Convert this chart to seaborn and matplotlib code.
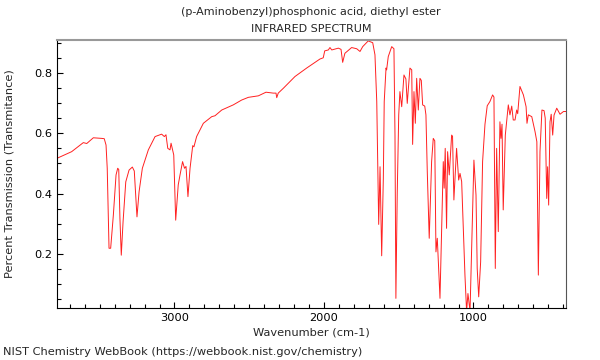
import numpy as np
import pandas as pd
import matplotlib
matplotlib.use("Agg")
import matplotlib.pyplot as plt
from matplotlib.ticker import MultipleLocator
import seaborn as sns

title_lines = ["(p-Aminobenzyl)phosphonic acid, diethyl ester", "INFRARED SPECTRUM"]
x_label = "Wavenumber (cm-1)"
y_label = "Percent Transmission (Transmitance)"
footer = "NIST Chemistry WebBook (https://webbook.nist.gov/chemistry)"

wavenumber = [
    3786, 3688, 3610, 3587, 3543, 3487, 3470, 3458, 3450, 3438, 3427, 3409, 3391, 3380, 3373,
    3365, 3356, 3344, 3326, 3304, 3282, 3269, 3251, 3237, 3215, 3175, 3130, 3086, 3068, 3057,
    3045, 3030, 3023, 3015, 3005, 2992, 2975, 2963, 2946, 2933, 2923, 2910, 2896, 2878, 2870,
    2852, 2807, 2751, 2729, 2684, 2607, 2551, 2506, 2439, 2388, 2339, 2321, 2316, 2306, 2272,
    2194, 2116, 2027, 2005, 1995, 1971, 1960, 1948, 1904, 1886, 1875, 1860, 1815, 1781, 1759,
    1741, 1704, 1674, 1659, 1647, 1634, 1625, 1614, 1603, 1597, 1585, 1581, 1570, 1547, 1532,
    1525, 1519, 1510, 1500, 1492, 1480, 1465, 1452, 1443, 1425, 1413, 1407, 1398, 1389, 1380,
    1369, 1358, 1349, 1340, 1326, 1318, 1309, 1296, 1280, 1269, 1259, 1251, 1242, 1224, 1212,
    1202, 1196, 1189, 1180, 1173, 1162, 1146, 1140, 1131, 1113, 1099, 1090, 1079, 1057, 1046,
    1037, 1023, 1010, 997, 983, 975, 965, 952, 939, 923, 908, 890, 872, 863, 854,
    845, 834, 823, 816, 809, 801, 787, 767, 756, 744, 734, 722, 711, 704, 689,
    666, 648, 642, 633, 610, 588, 576, 566, 555, 542, 528, 520, 510, 504, 497,
    488, 480, 470, 461, 443, 421, 398, 381,
]
transmittance = [
    0.517, 0.539, 0.569, 0.566, 0.585, 0.583, 0.582, 0.561, 0.484, 0.219, 0.219, 0.329, 0.462, 0.484, 0.480,
    0.318, 0.196, 0.307, 0.439, 0.478, 0.488, 0.475, 0.323, 0.406, 0.484, 0.545, 0.589, 0.597, 0.589, 0.595,
    0.550, 0.545, 0.567, 0.550, 0.528, 0.312, 0.429, 0.462, 0.506, 0.484, 0.490, 0.390, 0.484, 0.559, 0.555,
    0.589, 0.633, 0.655, 0.658, 0.677, 0.694, 0.710, 0.719, 0.724, 0.736, 0.733, 0.733, 0.718, 0.733, 0.749,
    0.788, 0.816, 0.846, 0.850, 0.873, 0.876, 0.884, 0.876, 0.882, 0.878, 0.835, 0.865, 0.884, 0.880, 0.871,
    0.887, 0.906, 0.900, 0.860, 0.705, 0.298, 0.489, 0.194, 0.450, 0.705, 0.816, 0.810, 0.854, 0.887, 0.880,
    0.594, 0.053, 0.400, 0.661, 0.738, 0.688, 0.793, 0.780, 0.699, 0.816, 0.810, 0.563, 0.738, 0.633, 0.782,
    0.677, 0.782, 0.775, 0.694, 0.690, 0.661, 0.473, 0.252, 0.506, 0.583, 0.575, 0.207, 0.252, 0.053, 0.307,
    0.506, 0.418, 0.550, 0.285, 0.539, 0.462, 0.594, 0.590, 0.379, 0.550, 0.445, 0.467, 0.440, 0.130, 0.010,
    0.069, 0.010, 0.263, 0.511, 0.395, 0.152, 0.058, 0.174, 0.506, 0.630, 0.691, 0.705, 0.727, 0.720, 0.152,
    0.550, 0.274, 0.638, 0.583, 0.630, 0.346, 0.594, 0.694, 0.661, 0.690, 0.644, 0.644, 0.677, 0.665, 0.755,
    0.727, 0.688, 0.633, 0.661, 0.655, 0.605, 0.572, 0.130, 0.539, 0.677, 0.675, 0.650, 0.384, 0.489, 0.362,
    0.638, 0.663, 0.594, 0.660, 0.683, 0.663, 0.672, 0.672,
]

df = pd.DataFrame({"wn": wavenumber, "T": transmittance})

sns.set_style("ticks")
plt.rcParams["font.family"] = ["DejaVu Sans"]

fig = plt.figure(figsize=(6, 3.6), dpi=100)
ax = fig.add_axes([57 / 600, 52 / 360, 509 / 600, 268 / 360])
sns.lineplot(data=df, x="wn", y="T", ax=ax, color="#ff2020", linewidth=0.7,
             sort=False, estimator=None)
ax.set_xlim(3786, 381)
ax.set_ylim(0.021, 0.909)
ax.xaxis.set_major_locator(MultipleLocator(1000))
ax.xaxis.set_minor_locator(MultipleLocator(100))
ax.yaxis.set_major_locator(MultipleLocator(0.2))
ax.yaxis.set_minor_locator(MultipleLocator(0.05))
ax.tick_params(which="both", direction="in", labelsize=8.2, colors="black")
ax.tick_params(which="major", length=4, width=0.8)
ax.tick_params(which="minor", length=3, width=0.8)
ax.set_yticks([0.2, 0.4, 0.6, 0.8])
ax.set_yticklabels(["0.2", "0.4", "0.6", "0.8"])
ax.set_xticks([1000, 2000, 3000])
ax.set_xticklabels(["1000", "2000", "3000"])
ax.set_xlabel(x_label, fontsize=8.2, labelpad=3)
ax.set_ylabel(y_label, fontsize=8.2)
ax.yaxis.label.set_verticalalignment("center")
ax.yaxis.set_label_coords(-47 / 509, 0.5)
for side in ["left", "bottom"]:
    ax.spines[side].set_color("black")
    ax.spines[side].set_linewidth(0.8)
ax.spines["top"].set_color("#999999")
ax.spines["top"].set_linewidth(1.5)
ax.spines["right"].set_color("#555555")
ax.spines["right"].set_linewidth(0.8)
ax.spines["top"].set_visible(True)
ax.spines["right"].set_visible(True)

fig.text(311 / 600, 1 - 12 / 360, title_lines[0], ha="center", va="center", fontsize=8)
fig.text(311 / 600, 1 - 29 / 360, title_lines[1], ha="center", va="center", fontsize=8)
fig.text(3 / 600, 1 - 352 / 360, footer, ha="left", va="center", fontsize=8.2)

fig.savefig("out.png", dpi=100)
